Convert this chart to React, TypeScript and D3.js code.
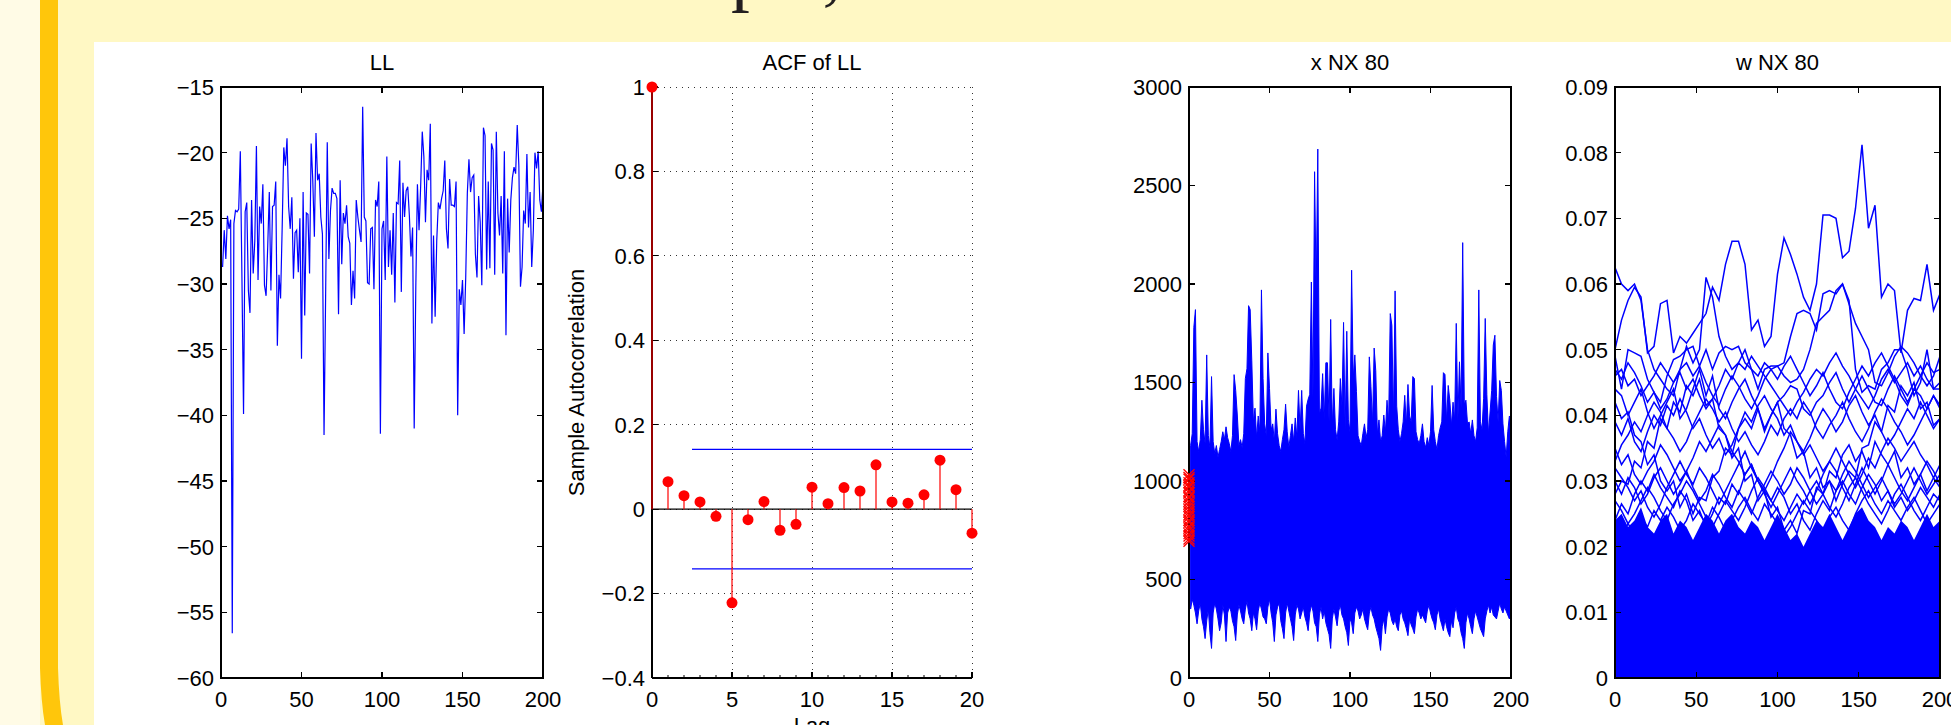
import React, { useEffect, useRef } from "react";
import * as d3 from "d3";

const W = 1951;
const H = 725;
const SANS = "'Liberation Sans', Arial, Helvetica, sans-serif";
const SERIF = "'Liberation Serif', 'Times New Roman', serif";
const BLUE = "#0000ff";
const RED = "#ff0000";
const FS = 22;

// log-likelihood trace, iterations 1..200
const llValues = [
  -28.7, -25.9, -28.1, -24.8, -25.8, -25.1, -56.6, -25.4, -24.4, -24.5,
  -24.3, -19.9, -29.5, -39.9, -24.5, -23.8, -30.5, -32.2, -23.6, -29.2,
  -26.7, -19.5, -29.7, -24.1, -25.4, -22.4, -30.1, -30.9, -27.2, -23.0,
  -30.5, -24.1, -24.0, -22.2, -34.7, -29.3, -31.1, -25.7, -19.6, -21.0,
  -18.9, -24.1, -25.8, -23.4, -29.6, -26.1, -25.9, -29.1, -25.0, -35.7,
  -23.0, -32.4, -24.6, -24.7, -29.2, -19.3, -22.1, -26.4, -18.5, -22.1,
  -21.6, -24.9, -26.2, -41.5, -30.7, -19.2, -28.1, -24.4, -22.7, -23.1,
  -23.1, -23.5, -32.3, -22.1, -28.5, -24.6, -25.4, -24.0, -26.4, -26.9,
  -31.6, -29.0, -31.1, -23.6, -24.9, -25.9, -26.8, -16.5, -24.9, -25.2,
  -29.9, -30.0, -25.8, -25.7, -30.4, -23.6, -24.1, -22.2, -41.4, -25.8,
  -25.2, -29.7, -20.3, -28.7, -25.9, -29.3, -24.6, -31.4, -23.8, -23.9,
  -20.6, -30.6, -22.3, -24.9, -22.9, -22.6, -24.8, -27.9, -25.7, -41.0,
  -30.2, -22.4, -25.9, -22.6, -18.4, -20.3, -25.3, -21.3, -22.1, -17.8,
  -33.0, -26.3, -32.5, -26.7, -23.8, -24.3, -23.5, -22.9, -20.6, -25.8,
  -27.3, -22.0, -24.0, -24.0, -24.1, -22.2, -40.0, -30.4, -31.6, -29.7,
  -33.8, -29.5, -23.1, -20.5, -23.0, -21.9, -21.7, -27.7, -29.5, -23.3,
  -25.3, -30.1, -18.1, -18.7, -28.9, -22.2, -28.8, -19.3, -19.8, -29.3,
  -18.4, -24.6, -26.3, -23.3, -29.2, -19.9, -33.9, -23.5, -27.6, -23.6,
  -21.9, -21.1, -21.6, -17.9, -21.0, -30.2, -28.7, -24.4, -25.4, -20.1,
  -25.7, -23.0, -28.7, -25.9, -20.0, -21.2, -19.9, -23.6, -24.5, -22.4,
];

// sample autocorrelation of LL
const acfLags = [0, 1, 2, 3, 4, 5, 6, 7, 8, 9, 10, 11, 12, 13, 14, 15, 16, 17, 18, 19, 20];
const acfValues = [
  1, 0.065, 0.032, 0.017, -0.017, -0.222, -0.025, 0.018, -0.05, -0.036, 0.052,
  0.013, 0.051, 0.043, 0.105, 0.017, 0.014, 0.034, 0.116, 0.046, -0.057,
];
const acfBound = 0.1414;
const acfBoundFrom = 2.5;

// x NX 80: upper / lower edge of the 80 particle traces, iterations 1..200
const xUpper = [
  1180, 1240, 1780, 1870, 1200, 1150, 1210, 1410, 1260, 1190,
  1640, 1230, 1170, 1530, 1200, 1140, 1180, 1120, 1160, 1200,
  1250, 1210, 1275, 1220, 1190, 1150, 1230, 1540, 1460, 1335,
  1180, 1210, 1170, 1240, 1520, 1570, 1890, 1870, 1610, 1300,
  1370, 1220, 1330, 1250, 1970, 1520, 1290, 1230, 1650, 1470,
  1260, 1290, 1200, 1365, 1240, 1180, 1150, 1210, 1260, 1390,
  1250, 1170, 1230, 1290, 1200, 1320, 1220, 1460, 1260, 1460,
  1240, 1190, 1380, 1415, 1440, 2010, 1420, 2570, 1955, 2685,
  1340, 1370, 1545, 1310, 1600, 1600, 1300, 1820, 1280, 1470,
  1260, 1210, 1300, 1520, 1380, 1805, 1260, 1760, 1310, 1250,
  2070, 1520, 1640, 1455, 1230, 1200, 1180, 1240, 1290, 1220,
  1260, 1630, 1480, 1290, 1675, 1560, 1240, 1310, 1200, 1230,
  1335, 1250, 1410, 1300, 1850, 1790, 1310, 1965, 1380, 1260,
  1200, 1240, 1300, 1435, 1280, 1490, 1330, 1300, 1530, 1520,
  1250, 1210, 1190, 1230, 1290, 1200, 1170, 1220, 1180, 1250,
  1485, 1260, 1200, 1160, 1230, 1270, 1300, 1550, 1540, 1300,
  1485, 1410, 1280, 1400, 1310, 1800, 1310, 1605, 1370, 2210,
  1390, 1410, 1290, 1300, 1240, 1310, 1230, 1200, 1270, 1970,
  1300, 1260, 1420, 1825, 1440, 1240, 1350, 1460, 1690, 1740,
  1430, 1300, 1510, 1460, 1290, 1200, 1120, 1250, 1330, 1320,
];
const xLower = [
  350, 400, 370, 330, 275, 340, 380, 300, 260, 200,
  290, 350, 230, 150, 330, 380, 350, 300, 240, 280,
  370, 320, 185, 330, 360, 340, 290, 260, 190, 320,
  370, 340, 300, 275, 350, 390, 330, 300, 240, 330,
  300, 245, 340, 380, 350, 310, 300, 275, 360, 400,
  330, 280, 185, 320, 360, 380, 290, 250, 200, 330,
  380, 340, 300, 260, 190, 320, 370, 350, 300, 330,
  360, 310, 280, 240, 330, 370, 340, 280, 260, 185,
  320, 360, 300, 340, 280, 250, 220, 150, 300, 350,
  310, 265, 340, 370, 320, 300, 260, 230, 165, 300,
  280, 225, 330, 360, 340, 300, 320, 350, 300, 270,
  245, 330, 360, 320, 300, 260, 230, 200, 140, 260,
  300, 225, 310, 350, 330, 290, 270, 300, 260, 240,
  320, 340, 300, 280, 250, 215, 300, 270, 250, 225,
  310, 350, 330, 300, 320, 300, 280, 340, 370, 330,
  300, 280, 245, 320, 350, 300, 270, 240, 300, 260,
  230, 210, 290, 255, 330, 360, 300, 280, 230, 200,
  150, 280, 330, 300, 260, 225, 300, 340, 310, 280,
  250, 230, 210, 300, 340, 370, 330, 360, 320, 310,
  300, 340, 380, 350, 330, 360, 340, 320, 300, 310,
];
// initial particle values (red markers at iteration 0)
const xInit = [
  1032, 1018, 1009, 991, 977, 968, 951, 940, 922, 913, 897, 884, 871,
  856, 843, 829, 818, 801, 790, 772, 761, 748, 733, 721, 706, 694,
];

// w NX 80: weights sampled every 4 iterations
const wSteps = d3.range(0, 201, 4);
const wDense = [
  0.024, 0.025, 0.023, 0.024, 0.026, 0.023, 0.022, 0.024, 0.025, 0.022,
  0.024, 0.023, 0.021, 0.023, 0.025, 0.024, 0.022, 0.024, 0.025, 0.023,
  0.022, 0.024, 0.023, 0.021, 0.023, 0.025, 0.023, 0.021, 0.022, 0.020,
  0.022, 0.024, 0.023, 0.025, 0.023, 0.021, 0.023, 0.025, 0.026, 0.024,
  0.023, 0.021, 0.023, 0.022, 0.024, 0.023, 0.021, 0.023, 0.025, 0.023,
  0.024,
];
const wTop = [
  0.0500, 0.0545, 0.0575, 0.0595, 0.0580, 0.0495, 0.0505, 0.0570, 0.0575, 0.0495,
  0.0520, 0.0510, 0.0525, 0.0540, 0.0555, 0.0595, 0.0575, 0.0630, 0.0665, 0.0665,
  0.0630, 0.0530, 0.0545, 0.0505, 0.0520, 0.0615, 0.0670, 0.0645, 0.0615, 0.0580,
  0.0560, 0.0600, 0.0705, 0.0705, 0.0700, 0.0640, 0.0650, 0.0715, 0.0812, 0.0685,
  0.0720, 0.0580, 0.0600, 0.0590, 0.0495, 0.0560, 0.0578, 0.0575, 0.0630, 0.0560,
  0.0585,
];
const wHighA = [
  0.0625, 0.0600, 0.0590, 0.0600, 0.0575, 0.0500, 0.0470, 0.0455, 0.0440, 0.0430,
  0.0470, 0.0505, 0.0480, 0.0500, 0.0610, 0.0580, 0.0520, 0.0490, 0.0470, 0.0480,
  0.0500, 0.0470, 0.0440, 0.0470, 0.0475, 0.0475, 0.0480, 0.0520, 0.0555, 0.0560,
  0.0555, 0.0530, 0.0585, 0.0590, 0.0585, 0.0600, 0.0575, 0.0470, 0.0435, 0.0445,
  0.0440, 0.0470, 0.0480, 0.0500, 0.0500, 0.0470, 0.0430, 0.0450, 0.0500, 0.0440,
  0.0440,
];
const wHighB = [
  0.0490, 0.0440, 0.0500, 0.0495, 0.0490, 0.0455, 0.0435, 0.0420, 0.0460, 0.0485,
  0.0490, 0.0500, 0.0505, 0.0475, 0.0500, 0.0470, 0.0495, 0.0505, 0.0500, 0.0505,
  0.0480, 0.0470, 0.0460, 0.0480, 0.0470, 0.0475, 0.0460, 0.0450, 0.0455, 0.0470,
  0.0500, 0.0540, 0.0550, 0.0560, 0.0590, 0.0600, 0.0570, 0.0540, 0.0520, 0.0500,
  0.0450, 0.0445, 0.0465, 0.0490, 0.0505, 0.0495, 0.0480, 0.0460, 0.0445, 0.0460,
  0.0490,
];
const wMidH = [
  0.0460, 0.0470, 0.0445, 0.0455, 0.0430, 0.0445, 0.0460, 0.0480, 0.0465, 0.0450,
  0.0465, 0.0440, 0.0455, 0.0430, 0.0410, 0.0425, 0.0445, 0.0470, 0.0455, 0.0480,
  0.0470, 0.0490, 0.0475, 0.0460, 0.0445, 0.0430, 0.0415, 0.0400, 0.0420, 0.0435,
  0.0455, 0.0470, 0.0460, 0.0480, 0.0495, 0.0475, 0.0460, 0.0440, 0.0425, 0.0410,
  0.0430, 0.0455, 0.0470, 0.0450, 0.0465, 0.0480, 0.0460, 0.0475, 0.0455, 0.0440,
  0.0450,
];
const wMidI = [
  0.0470, 0.0455, 0.0480, 0.0465, 0.0445, 0.0420, 0.0435, 0.0410, 0.0425, 0.0450,
  0.0470, 0.0480, 0.0460, 0.0475, 0.0450, 0.0430, 0.0415, 0.0440, 0.0460, 0.0445,
  0.0425, 0.0410, 0.0430, 0.0455, 0.0470, 0.0455, 0.0475, 0.0490, 0.0470, 0.0450,
  0.0430, 0.0445, 0.0465, 0.0440, 0.0420, 0.0410, 0.0435, 0.0455, 0.0475, 0.0460,
  0.0480, 0.0495, 0.0475, 0.0455, 0.0430, 0.0415, 0.0440, 0.0460, 0.0480, 0.0465,
  0.0470,
];
const wMidA = [
  0.0440, 0.0430, 0.0400, 0.0420, 0.0440, 0.0405, 0.0380, 0.0400, 0.0420, 0.0440,
  0.0395, 0.0410, 0.0440, 0.0470, 0.0430, 0.0460, 0.0410, 0.0395, 0.0420, 0.0440,
  0.0455, 0.0430, 0.0410, 0.0380, 0.0400, 0.0420, 0.0430, 0.0445, 0.0440, 0.0410,
  0.0400, 0.0420, 0.0430, 0.0450, 0.0465, 0.0440, 0.0420, 0.0440, 0.0460, 0.0440,
  0.0420, 0.0415, 0.0440, 0.0460, 0.0440, 0.0420, 0.0440, 0.0430, 0.0410, 0.0430,
  0.0410,
];
const wMidE = [
  0.0420, 0.0395, 0.0405, 0.0370, 0.0360, 0.0325, 0.0340, 0.0300, 0.0285, 0.0300,
  0.0260, 0.0280, 0.0250, 0.0275, 0.0270, 0.0305, 0.0315, 0.0350, 0.0340, 0.0380,
  0.0395, 0.0380, 0.0410, 0.0375, 0.0400, 0.0420, 0.0380, 0.0370, 0.0335, 0.0345,
  0.0305, 0.0320, 0.0290, 0.0300, 0.0270, 0.0295, 0.0315, 0.0305, 0.0350, 0.0355,
  0.0390, 0.0375, 0.0415, 0.0405, 0.0445, 0.0430, 0.0450, 0.0410, 0.0420, 0.0385,
  0.0395,
];
const wMidJ = [
  0.0330, 0.0355, 0.0370, 0.0390, 0.0375, 0.0400, 0.0420, 0.0405, 0.0380, 0.0365,
  0.0345, 0.0360, 0.0385, 0.0405, 0.0425, 0.0410, 0.0390, 0.0405, 0.0380, 0.0360,
  0.0375, 0.0355, 0.0340, 0.0360, 0.0385, 0.0370, 0.0395, 0.0410, 0.0395, 0.0420,
  0.0405, 0.0380, 0.0365, 0.0385, 0.0400, 0.0420, 0.0395, 0.0375, 0.0360, 0.0380,
  0.0405, 0.0425, 0.0410, 0.0390, 0.0375, 0.0355, 0.0370, 0.0390, 0.0410, 0.0430,
  0.0415,
];
const wMidB = [
  0.0390, 0.0370, 0.0395, 0.0360, 0.0345, 0.0375, 0.0400, 0.0385, 0.0415, 0.0400,
  0.0425, 0.0405, 0.0380, 0.0395, 0.0370, 0.0350, 0.0365, 0.0340, 0.0355, 0.0380,
  0.0405, 0.0390, 0.0415, 0.0430, 0.0410, 0.0395, 0.0370, 0.0385, 0.0360, 0.0345,
  0.0365, 0.0390, 0.0410, 0.0395, 0.0375, 0.0390, 0.0415, 0.0430, 0.0405, 0.0385,
  0.0400, 0.0375, 0.0355, 0.0370, 0.0390, 0.0410, 0.0395, 0.0420, 0.0400, 0.0380,
  0.0395,
];
const wMidF = [
  0.0280, 0.0300, 0.0295, 0.0330, 0.0320, 0.0360, 0.0350, 0.0395, 0.0380, 0.0420,
  0.0405, 0.0445, 0.0430, 0.0455, 0.0415, 0.0425, 0.0380, 0.0370, 0.0335, 0.0350,
  0.0300, 0.0310, 0.0270, 0.0285, 0.0245, 0.0260, 0.0225, 0.0240, 0.0220, 0.0255,
  0.0250, 0.0290, 0.0280, 0.0315, 0.0305, 0.0340, 0.0355, 0.0330, 0.0345, 0.0320,
  0.0360, 0.0340, 0.0325, 0.0345, 0.0305, 0.0320, 0.0295, 0.0310, 0.0285, 0.0305,
  0.0290,
];
const wMidC = [
  0.0350, 0.0325, 0.0340, 0.0310, 0.0295, 0.0315, 0.0330, 0.0355, 0.0340, 0.0320,
  0.0300, 0.0315, 0.0335, 0.0360, 0.0345, 0.0365, 0.0385, 0.0370, 0.0345, 0.0330,
  0.0310, 0.0325, 0.0300, 0.0285, 0.0305, 0.0330, 0.0350, 0.0375, 0.0360, 0.0340,
  0.0355, 0.0335, 0.0315, 0.0330, 0.0350, 0.0330, 0.0310, 0.0290, 0.0310, 0.0335,
  0.0320, 0.0345, 0.0365, 0.0350, 0.0330, 0.0345, 0.0360, 0.0340, 0.0325, 0.0305,
  0.0325,
];
const wLowC = [
  0.0320, 0.0305, 0.0290, 0.0270, 0.0285, 0.0260, 0.0245, 0.0265, 0.0290, 0.0310,
  0.0330, 0.0310, 0.0295, 0.0320, 0.0305, 0.0285, 0.0265, 0.0285, 0.0305, 0.0325,
  0.0345, 0.0320, 0.0300, 0.0280, 0.0260, 0.0280, 0.0300, 0.0320, 0.0300, 0.0285,
  0.0265, 0.0285, 0.0310, 0.0330, 0.0315, 0.0290, 0.0270, 0.0295, 0.0320, 0.0300,
  0.0280, 0.0300, 0.0325, 0.0305, 0.0285, 0.0270, 0.0290, 0.0310, 0.0330, 0.0315,
  0.0295,
];
const wMidD = [
  0.0300, 0.0280, 0.0305, 0.0290, 0.0265, 0.0280, 0.0305, 0.0320, 0.0300, 0.0280,
  0.0295, 0.0315, 0.0290, 0.0270, 0.0285, 0.0310, 0.0295, 0.0275, 0.0260, 0.0285,
  0.0270, 0.0250, 0.0275, 0.0295, 0.0315, 0.0300, 0.0280, 0.0295, 0.0320, 0.0305,
  0.0285, 0.0265, 0.0280, 0.0300, 0.0285, 0.0310, 0.0330, 0.0315, 0.0295, 0.0275,
  0.0290, 0.0305, 0.0285, 0.0265, 0.0280, 0.0300, 0.0320, 0.0300, 0.0280, 0.0295,
  0.0310,
];
const wMidG = [
  0.0240, 0.0265, 0.0250, 0.0280, 0.0300, 0.0285, 0.0310, 0.0290, 0.0275, 0.0260,
  0.0285, 0.0270, 0.0240, 0.0255, 0.0230, 0.0250, 0.0275, 0.0265, 0.0295, 0.0280,
  0.0310, 0.0325, 0.0300, 0.0285, 0.0270, 0.0290, 0.0275, 0.0250, 0.0265, 0.0240,
  0.0225, 0.0250, 0.0270, 0.0255, 0.0285, 0.0300, 0.0280, 0.0265, 0.0290, 0.0310,
  0.0295, 0.0270, 0.0285, 0.0260, 0.0275, 0.0255, 0.0270, 0.0290, 0.0275, 0.0260,
  0.0280,
];
const wLowB = [
  0.0270, 0.0255, 0.0235, 0.0250, 0.0270, 0.0290, 0.0275, 0.0255, 0.0240, 0.0265,
  0.0280, 0.0300, 0.0285, 0.0265, 0.0245, 0.0230, 0.0250, 0.0270, 0.0255, 0.0240,
  0.0260, 0.0285, 0.0305, 0.0290, 0.0270, 0.0255, 0.0240, 0.0260, 0.0280, 0.0265,
  0.0285, 0.0300, 0.0280, 0.0260, 0.0245, 0.0265, 0.0290, 0.0305, 0.0285, 0.0265,
  0.0250, 0.0235, 0.0255, 0.0280, 0.0295, 0.0275, 0.0255, 0.0240, 0.0260, 0.0280,
  0.0270,
];
const wLowA = [
  0.0200, 0.0215, 0.0235, 0.0220, 0.0245, 0.0230, 0.0255, 0.0240, 0.0260, 0.0245,
  0.0225, 0.0240, 0.0265, 0.0250, 0.0235, 0.0260, 0.0245, 0.0225, 0.0240, 0.0260,
  0.0275, 0.0255, 0.0240, 0.0265, 0.0250, 0.0235, 0.0215, 0.0230, 0.0250, 0.0270,
  0.0255, 0.0240, 0.0225, 0.0245, 0.0260, 0.0240, 0.0225, 0.0250, 0.0270, 0.0285,
  0.0265, 0.0250, 0.0270, 0.0255, 0.0240, 0.0260, 0.0275, 0.0255, 0.0235, 0.0250,
  0.0265,
];

const iterTicks = [0, 50, 100, 150, 200];
const llTicks = [-60, -55, -50, -45, -40, -35, -30, -25, -20, -15];
const acfXTicks = [0, 5, 10, 15, 20];
const acfYTicks = [-0.4, -0.2, 0, 0.2, 0.4, 0.6, 0.8, 1];
const xTicksY = [0, 500, 1000, 1500, 2000, 2500, 3000];
const wTicksY = [0, 0.01, 0.02, 0.03, 0.04, 0.05, 0.06, 0.07, 0.08, 0.09];

const fmt = (v: number) => (v < 0 ? "\u2212" + Math.abs(v) : String(v));

const TOP = 87;
const BOTTOM = 678;

function frame(g: any, xs: any, ys: any, xTicks: number[], yTicks: number[], title: string, box: boolean) {
  const [x0, x1] = xs.range();
  const tl = 6;
  const ax = g.append("g").attr("stroke", "#000").attr("stroke-width", 1.2).attr("fill", "none")
    .attr("shape-rendering", "crispEdges");
  if (box) {
    ax.append("rect").attr("x", x0).attr("y", TOP).attr("width", x1 - x0).attr("height", BOTTOM - TOP);
  } else {
    ax.append("line").attr("x1", x0).attr("x2", x0).attr("y1", TOP).attr("y2", BOTTOM);
    ax.append("line").attr("x1", x0).attr("x2", x1).attr("y1", BOTTOM).attr("y2", BOTTOM);
  }
  xTicks.forEach((t) => {
    const x = xs(t);
    ax.append("line").attr("x1", x).attr("x2", x).attr("y1", BOTTOM).attr("y2", BOTTOM - tl);
    if (box) ax.append("line").attr("x1", x).attr("x2", x).attr("y1", TOP).attr("y2", TOP + tl);
  });
  yTicks.forEach((t) => {
    const y = ys(t);
    ax.append("line").attr("x1", x0).attr("x2", x0 + tl).attr("y1", y).attr("y2", y);
    if (box) ax.append("line").attr("x1", x1).attr("x2", x1 - tl).attr("y1", y).attr("y2", y);
  });
  const lab = g.append("g").attr("font-family", SANS).attr("font-size", FS).attr("fill", "#000");
  xTicks.forEach((t) => {
    lab.append("text").attr("x", xs(t)).attr("y", BOTTOM + 29).attr("text-anchor", "middle").text(fmt(t));
  });
  yTicks.forEach((t) => {
    lab.append("text").attr("x", x0 - 7).attr("y", ys(t)).attr("dy", "0.36em").attr("text-anchor", "end").text(fmt(t));
  });
  lab.append("text").attr("x", (x0 + x1) / 2).attr("y", 70).attr("text-anchor", "middle").text(title);
}

function clipFor(svg: any, id: string, xs: any) {
  const [x0, x1] = xs.range();
  svg.append("clipPath").attr("id", id).append("rect")
    .attr("x", x0).attr("y", TOP).attr("width", x1 - x0).attr("height", BOTTOM - TOP);
  return `url(#${id})`;
}

export default function App() {
  const ref = useRef<SVGSVGElement>(null);

  useEffect(() => {
    const svg = d3.select(ref.current);
    svg.selectAll("*").remove();

    // slide background
    svg.append("rect").attr("width", W).attr("height", H).attr("fill", "#fff8c4");
    svg.append("rect").attr("width", 40).attr("height", H).attr("fill", "#fffbe6");
    svg.append("path").attr("d", "M40,0H58V668Q59,702 63,725H45Q41,702 40,668Z").attr("fill", "#ffc60b");
    svg.append("rect").attr("x", 94).attr("y", 42).attr("width", W - 94).attr("height", H - 42).attr("fill", "#fff");
    svg.append("text").attr("x", 556).attr("y", -3).attr("font-family", SERIF).attr("font-size", 75)
      .attr("fill", "#231f20").text("Example,");

    // LL
    {
      const xs = d3.scaleLinear().domain([0, 200]).range([221, 543]);
      const ys = d3.scaleLinear().domain([-60, -15]).range([BOTTOM, TOP]);
      const g = svg.append("g");
      const line = d3.line<number>().x((_, i) => xs(i + 1)).y((d) => ys(d));
      g.append("path").datum(llValues).attr("d", line).attr("fill", "none").attr("stroke", BLUE)
        .attr("stroke-width", 1.2).attr("clip-path", clipFor(svg, "clipLL", xs));
      frame(g, xs, ys, iterTicks, llTicks, "LL", true);
    }

    // ACF of LL
    {
      const xs = d3.scaleLinear().domain([0, 20]).range([652, 972]);
      const ys = d3.scaleLinear().domain([-0.4, 1]).range([BOTTOM, TOP]);
      const g = svg.append("g");
      const grid = g.append("g").attr("stroke", "#333").attr("stroke-width", 1).attr("stroke-dasharray", "1,5")
        .attr("shape-rendering", "crispEdges");
      acfXTicks.filter((t) => t > 0).forEach((t) => {
        grid.append("line").attr("x1", xs(t)).attr("x2", xs(t)).attr("y1", TOP).attr("y2", BOTTOM);
      });
      acfYTicks.filter((t) => t > -0.4).forEach((t) => {
        grid.append("line").attr("x1", xs(0)).attr("x2", xs(20)).attr("y1", ys(t)).attr("y2", ys(t));
      });
      [acfBound, -acfBound].forEach((b) => {
        g.append("line").attr("x1", xs(acfBoundFrom)).attr("x2", xs(20)).attr("y1", ys(b)).attr("y2", ys(b))
          .attr("stroke", BLUE).attr("stroke-width", 1.3);
      });
      g.append("line").attr("x1", xs(0)).attr("x2", xs(20)).attr("y1", ys(0)).attr("y2", ys(0))
        .attr("stroke", "#000").attr("stroke-width", 1.2);
      // minor ticks along lag axis
      acfLags.forEach((l) => {
        g.append("line").attr("x1", xs(l)).attr("x2", xs(l)).attr("y1", BOTTOM).attr("y2", BOTTOM - 3)
          .attr("stroke", "#000").attr("stroke-width", 1);
      });
      frame(g, xs, ys, acfXTicks, acfYTicks, "ACF of LL", false);
      g.selectAll(".stem").data(acfValues).enter().append("line")
        .attr("x1", (_, i) => xs(acfLags[i])).attr("x2", (_, i) => xs(acfLags[i]))
        .attr("y1", ys(0)).attr("y2", (d) => ys(d)).attr("stroke", RED).attr("stroke-width", 1.2);
      g.selectAll(".dot").data(acfValues).enter().append("circle")
        .attr("cx", (_, i) => xs(acfLags[i])).attr("cy", (d) => ys(d)).attr("r", 5.5).attr("fill", RED);
      g.append("text").attr("transform", `translate(576,${(TOP + BOTTOM) / 2}) rotate(-90)`)
        .attr("text-anchor", "middle").attr("dy", "0.36em").attr("font-family", SANS).attr("font-size", FS)
        .text("Sample Autocorrelation");
      g.append("text").attr("x", (xs(0) + xs(20)) / 2).attr("y", 733).attr("text-anchor", "middle")
        .attr("font-family", SANS).attr("font-size", FS).text("Lag");
    }

    // x NX 80
    {
      const xs = d3.scaleLinear().domain([0, 200]).range([1189, 1511]);
      const ys = d3.scaleLinear().domain([0, 3000]).range([BOTTOM, TOP]);
      const g = svg.append("g").attr("clip-path", clipFor(svg, "clipX", xs));
      const band = d3.area<number>().x((_, i) => xs(i + 1)).y0((_, i) => ys(xLower[i])).y1((d) => ys(d));
      g.append("path").datum(xUpper).attr("d", band).attr("fill", BLUE).attr("stroke", BLUE).attr("stroke-width", 1);
      const fr = svg.append("g");
      frame(fr, xs, ys, iterTicks, xTicksY, "x NX 80", true);
      const mk = svg.append("g").attr("stroke", RED).attr("stroke-width", 1.3);
      xInit.forEach((v) => {
        const cx = xs(0), cy = ys(v);
        mk.append("path").attr("d", `M${cx - 5.5},${cy - 5.5}L${cx + 5.5},${cy + 5.5}M${cx - 5.5},${cy + 5.5}L${cx + 5.5},${cy - 5.5}`);
      });
    }

    // w NX 80
    {
      const xs = d3.scaleLinear().domain([0, 200]).range([1615, 1940]);
      const ys = d3.scaleLinear().domain([0, 0.09]).range([BOTTOM, TOP]);
      const g = svg.append("g").attr("clip-path", clipFor(svg, "clipW", xs));
      const dense = d3.area<number>().x((_, i) => xs(wSteps[i])).y0(ys(0)).y1((d) => ys(d));
      g.append("path").datum(wDense).attr("d", dense).attr("fill", BLUE);
      const line = d3.line<number>().x((_, i) => xs(wSteps[i])).y((d) => ys(d));
      const traces = [
        wLowA, wLowB, wMidG, wMidD, wLowC, wMidC, wMidF, wMidB, wMidJ, wMidE,
        wMidA, wMidI, wMidH, wHighB, wHighA, wTop,
      ];
      traces.forEach((tr) => {
        g.append("path").datum(tr).attr("d", line).attr("fill", "none").attr("stroke", BLUE).attr("stroke-width", 1.5);
      });
      const fr = svg.append("g");
      frame(fr, xs, ys, iterTicks, wTicksY, "w NX 80", true);
    }
  }, []);

  return (
    <svg
      ref={ref}
      width={W}
      height={H}
      style={{ position: "absolute", left: 0, top: 0, display: "block", overflow: "hidden" }}
    />
  );
}
